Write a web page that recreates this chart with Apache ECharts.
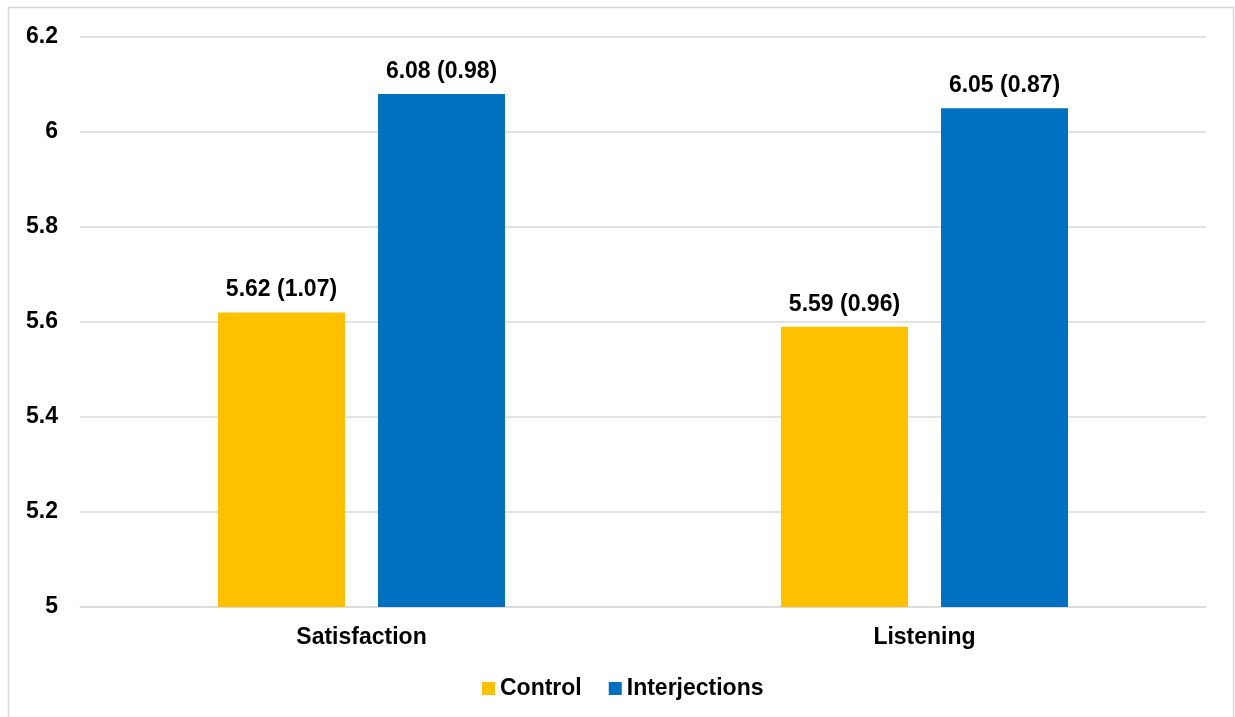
<!DOCTYPE html>
<html>
<head>
<meta charset="utf-8">
<script src="https://cdn.jsdelivr.net/npm/echarts@6/dist/echarts.min.js"></script>
<style>
  html, body { margin: 0; padding: 0; background: #ffffff; }
  #chart { width: 1235px; height: 717px; }
</style>
</head>
<body>
<div id="chart"></div>
<script>
// Mean ratings per measure, with standard deviations shown in the labels
const categories = ['Satisfaction', 'Listening'];
const seriesNames = ['Control', 'Interjections'];
const controlMeans = [5.62, 5.59];
const controlSD = [1.07, 0.96];
const interjectionMeans = [6.08, 6.05];
const interjectionSD = [0.98, 0.87];
const yTicks = { min: 5, max: 6.2, step: 0.2 };

const FONT = 'Arial, "Liberation Sans", sans-serif';
const chart = echarts.init(document.getElementById('chart'), null, { renderer: 'canvas' });

function labelFor(sds) {
  return {
    show: true,
    position: 'top',
    distance: 11,
    color: '#000',
    fontFamily: FONT,
    fontWeight: 'bold',
    fontSize: 23,
    formatter: p => p.value.toFixed(2) + ' (' + sds[p.dataIndex].toFixed(2) + ')'
  };
}

chart.setOption({
  animation: false,
  backgroundColor: '#ffffff',
  graphic: [{
    type: 'rect',
    shape: { x: 8.5, y: 7.5, width: 1225, height: 730 },
    style: { fill: 'none', stroke: '#d9d9d9', lineWidth: 1.5 },
    silent: true
  }],
  grid: { left: 80, right: 29, top: 37, bottom: 110, containLabel: false },
  legend: {
    data: seriesNames,
    left: 477,
    top: 672,
    itemWidth: 13,
    itemHeight: 13,
    itemGap: 27,
    icon: 'rect',
    textStyle: { color: '#000', fontFamily: FONT, fontWeight: 'bold', fontSize: 23 }
  },
  xAxis: {
    type: 'category',
    data: categories,
    axisLine: { show: true, lineStyle: { color: '#d9d9d9', width: 1.5 } },
    axisTick: { show: false },
    axisLabel: { color: '#000', fontFamily: FONT, fontWeight: 'bold', fontSize: 23, margin: 19 }
  },
  yAxis: {
    type: 'value',
    min: yTicks.min,
    max: yTicks.max,
    interval: yTicks.step,
    axisLine: { show: false },
    axisTick: { show: false },
    splitLine: { lineStyle: { color: '#d9d9d9', width: 1.5 } },
    axisLabel: {
      color: '#000', fontFamily: FONT, fontWeight: 'bold', fontSize: 23, margin: 22,
      padding: [4, 0, 0, 0],
      formatter: v => String(+v.toFixed(1))
    }
  },
  series: [
    {
      name: seriesNames[0],
      type: 'bar',
      data: controlMeans,
      barWidth: 127,
      barGap: '26%',
      itemStyle: { color: '#FFC000' },
      label: labelFor(controlSD)
    },
    {
      name: seriesNames[1],
      type: 'bar',
      data: interjectionMeans,
      barWidth: 127,
      barGap: '26%',
      itemStyle: { color: '#0070C0' },
      label: labelFor(interjectionSD)
    }
  ]
});
</script>
</body>
</html>
